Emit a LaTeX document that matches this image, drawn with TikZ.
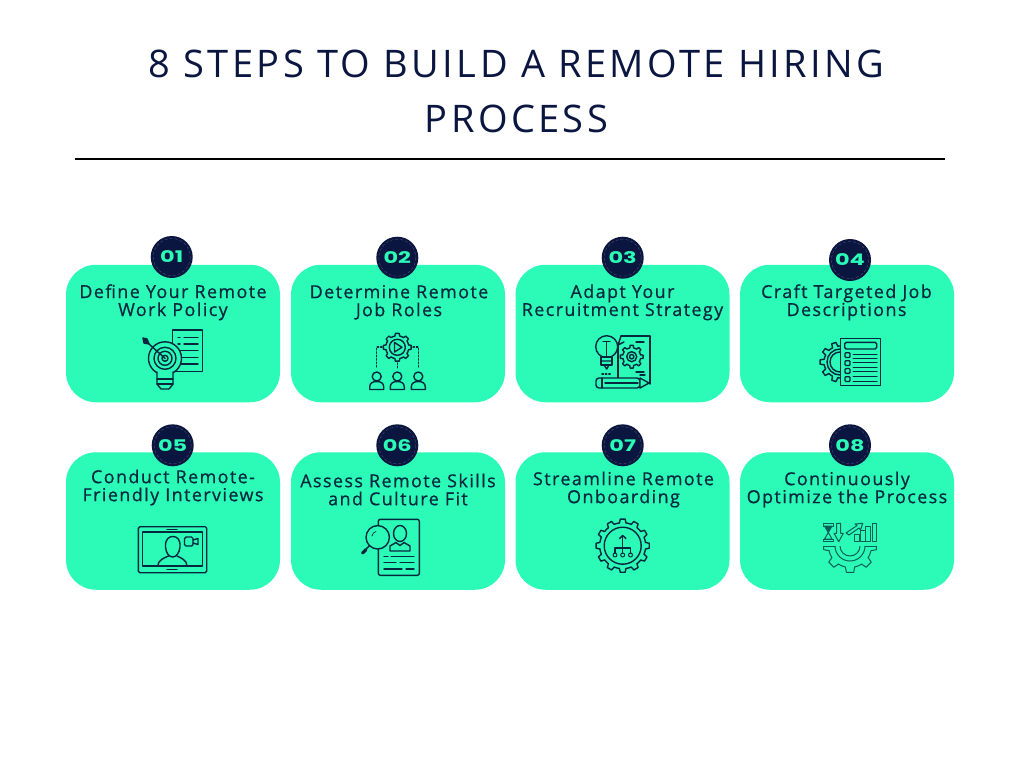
\documentclass[tikz,border=0pt]{standalone}
\usepackage{fontspec}
\setmainfont{Open Sans}
\newfontfamily\titlefont[LetterSpace=9]{Open Sans}
\newfontfamily\cardfont[LetterSpace=8,FakeBold=0.6]{Open Sans}
\newfontfamily\numfont[FakeStretch=1.4]{Poppins}
\definecolor{navy}{HTML}{0A1640}
\definecolor{ink}{HTML}{06283F}
\definecolor{mint}{HTML}{2BFBB6}
\definecolor{teal}{HTML}{0B5F58}
\tikzset{
	card/.style={fill=mint, rounded corners=30, minimum width=214, minimum height=137.5, inner sep=0},
	cardtext/.style={text=ink, align=center, inner sep=0, font=\cardfont\fontsize{17.9}{18}\selectfont},
	numdot/.style={circle, fill=navy, minimum size=42, inner sep=0, text=mint, font=\numfont\bfseries\fontsize{16}{16}\selectfont},
	numring/.style={draw=white!30!navy, line width=0.3, densely dashed},
	icon/.style={draw=ink, line width=1.4, line join=round, line cap=round},
	thinicon/.style={draw=teal, line width=1, line join=round, line cap=round}
}
\newcommand{\gearshape}[6][icon]{%
	\begin{scope}[shift={(#2,#3)}]
		\foreach \k in {1,...,#6}
		{
			\pgfmathsetmacro{\ga}{360/#6*\k}
			\pgfmathsetmacro{\gw}{90/#6}
			\draw[#1] ({\ga-1.1*\gw}:#5) -- ({\ga-0.7*\gw}:#4) -- ({\ga+0.7*\gw}:#4) -- ({\ga+1.1*\gw}:#5) -- ({\ga+2*\gw}:#5) -- ({\ga+2.9*\gw}:#5);
		}
	\end{scope}
}
\begin{document}
\begin{tikzpicture}[x=1pt, y=-1pt]
	\useasboundingbox (0,0) rectangle (1024,768);

	\node[text=navy, align=center, inner sep=0, font=\titlefont\fontsize{38}{55}\selectfont] (title) at (516.5,91.5) {8 STEPS TO BUILD A REMOTE HIRING\\PROCESS};
	\coordinate (ruleL) at (75,159);
	\coordinate (ruleR) at (945,159);
	\draw[line width=2, black] (ruleL) -- (ruleR);

	\foreach \i/\cx/\cy/\tx/\ty/\nx/\ny/\lbl in {
		1/173/333.5/173/302.3/171.7/257/{Define Your Remote\\Work Policy},
		2/398/333.5/399/302.3/397.3/257.7/{Determine Remote\\Job Roles},
		3/622.5/333.5/622.5/302.3/622.7/257.7/{Adapt Your\\Recruitment Strategy},
		4/847/333.5/846.5/302.3/850/260/{Craft Targeted Job\\Descriptions},
		5/173/521/173/487.5/172.7/445.3/{Conduct Remote-\\Friendly Interviews},
		6/398/521/398/489.5/397.3/445.3/{Assess Remote Skills\\and Culture Fit},
		7/622.5/521/623.5/489.5/622.7/445.3/{Streamline Remote\\Onboarding},
		8/847/521/847/489.5/850/445.3/{Continuously\\Optimize the Process}}
	{
		\node[card] (card\i) at (\cx,\cy) {};
		\node[numdot] (num\i) at (\nx,\ny) {0\i};
		\draw[numring] (num\i.center) circle (18.5);
		\node[cardtext] (text\i) at (\tx,\ty) {\lbl};
	}

	% 01 target and list
	\draw[icon] (172.7,330) rectangle (202.7,371.7);
	\foreach \y/\a in {337.3/184,344/184,350.7/178,357.3/178,364/178}
	{
		\draw[icon] (\a,\y) -- (198,\y);
	}
	\draw[icon] (178,337.3) -- (180,337.3) (178,344) -- (180,344);
	\draw[icon, fill=mint] (165,358.3) circle (16.5);
	\draw[icon] (165,358.3) circle (11) (165,358.3) circle (7) (165,358.3) circle (3);
	\draw[icon, fill=mint] (157,372) -- (157,384) -- (161,389) -- (169,389) -- (173,384) -- (173,372);
	\draw[icon] (157,379) -- (173,379) (157,384) -- (173,384);
	\draw[icon] (165,358.3) -- (149,344);
	\draw[icon, fill=ink] (149,344) -- (144,343) -- (143,338) -- (147,339) -- cycle;

	% 02 gear and people
	\gearshape{397.3}{347.3}{14}{11.5}{8}
	\draw[icon] (397.3,347.3) circle (8);
	\draw[icon] (394.5,342.5) -- (402,347.3) -- (394.5,352) -- cycle;
	\draw[icon, dotted] (382,347) -- (376.7,347) -- (376.7,367);
	\draw[icon, dotted] (413,347) -- (418.3,347) -- (418.3,367);
	\draw[icon, dotted] (397.3,363) -- (397.3,369);
	\foreach \x in {376.7,397.3,418.3}
	{
		\draw[icon] (\x,376.5) circle (4.5);
		\draw[icon] (\x-7,389.5) -- (\x-7,387) .. controls (\x-7,383) and (\x-4,381.5) .. (\x,381.5) .. controls (\x+4,381.5) and (\x+7,383) .. (\x+7,387) -- (\x+7,389.5) -- cycle;
	}

	% 03 bulb, book and pencil
	\draw[icon] (621,336) -- (650,336) -- (650,384) (618,345) -- (618,378);
	\draw[icon] (621,336) -- (618,345) -- (624,342);
	\gearshape{631.7}{356.7}{11.5}{9}{8}
	\draw[icon] (631.7,356.7) circle (5) (631.7,356.7) circle (2.2);
	\draw[icon] (636,342) -- (644,342) (636,372) -- (644,372) (640,375) -- (645,375);
	\draw[icon, fill=mint] (606.7,346.7) circle (11);
	\draw[icon, fill=mint] (601,357) rectangle (612,365);
	\draw[icon] (601,361) -- (612,361) (604,365) -- (606.7,369) -- (609,365);
	\draw[icon] (603,341.5) -- (610,341.5) (606.7,341.5) -- (606.7,357);
	\draw[icon, dotted] (602,374) -- (611,374);
	\draw[icon, fill=mint, rounded corners=3] (596,378) -- (640,378) -- (640,388) -- (596,388) -- cycle;
	\draw[icon, fill=mint] (640,378) -- (649,383) -- (640,388) -- cycle;
	\draw[icon] (602,378) -- (602,388) (605,383) -- (638,383);

	% 04 gear behind a form
	\gearshape{840}{362}{20}{16}{10}
	\draw[icon] (840,362) circle (13) (840,362) circle (10);
	\draw[icon, fill=mint] (840.7,338.3) rectangle (880.7,385.7);
	\draw[icon, rounded corners=1.5] (844.7,342.3) rectangle (876.7,349);
	\foreach \y in {352.7,360.7,368.5,376.7}
	{
		\draw[icon, rounded corners=1] (845,\y) rectangle (850,\y+4.8);
	}
	\foreach \y in {354,358.3,362.7,367.3,371.7,376.7,381}
	{
		\draw[icon, line width=1] (853,\y) -- (877,\y);
	}

	% 05 video call on a tablet
	\draw[icon, rounded corners=1.5] (138.3,526.7) rectangle (206.7,572.7);
	\draw[icon] (142.7,532) rectangle (202.7,566);
	\draw[icon] (167,529.5) -- (177,529.5) (167,569.5) -- (177,569.5);
	\draw[icon] (165.5,547) .. controls (165,538) and (170,536.5) .. (172.7,536.5) .. controls (177,536.5) and (180.5,539) .. (180,547) .. controls (179.5,553) and (176,557) .. (172.7,557) .. controls (169,557) and (166,553) .. (165.5,547) -- cycle;
	\draw[icon] (157.7,566) .. controls (158,560) and (164,558) .. (168.5,556) (187,566) .. controls (187,560) and (181,558) .. (177,556);
	\draw[icon, rounded corners=1.5] (184.5,537) rectangle (193,546);
	\draw[icon] (193,540) -- (198,538.5) -- (198,544.5) -- (193,543);

	% 06 magnifier over a profile
	\draw[icon, rounded corners=2] (378.3,519.3) rectangle (419.3,575.3);
	\draw[icon] (400,533.5) ellipse (6.5 and 8);
	\draw[icon] (390,551) -- (390,546) -- (396,542.5) -- (400,545.5) -- (404,542.5) -- (410,546) -- (410,551) -- cycle;
	\foreach \y/\a/\b/\c/\d in {556.7/384/388/391/414,562.7/384/396/400/414,569/384/402/406/414}
	{
		\draw[icon] (\a,\y) -- (\b,\y) (\c,\y) -- (\d,\y);
	}
	\draw[icon, fill=mint] (377.7,537.3) circle (11.7);
	\draw[icon, line width=0.7] (372,536) .. controls (372.5,533.5) and (374,532) .. (376,531.5);
	\draw[icon] (369.5,545.5) -- (366,549);
	\draw[icon, line width=3.2] (366,549.5) -- (362.5,553);

	% 07 gear with branching arrows
	\gearshape{622.7}{545.7}{26.7}{23}{12}
	\draw[icon] (622.7,545.7) circle (18.5);
	\draw[icon] (622.7,535.5) -- (622.7,553);
	\draw[icon] (619.5,538.5) -- (622.7,535.5) -- (625.9,538.5);
	\draw[icon] (615,553) -- (615,548) -- (630.5,548) -- (630.5,553);
	\foreach \x in {615,622.7,630.5}
	{
		\draw[icon, line width=1] (\x,555) circle (2);
	}

	% 08 hourglass, trends and half gear
	\begin{scope}
		\clip (815,546) rectangle (885,580);
		\gearshape[thinicon]{850}{546}{26.7}{21.5}{8}
		\draw[thinicon] (850,546) circle (15) (850,546) circle (10);
	\end{scope}
	\draw[thinicon] (823.3,546) -- (835,546) (865,546) -- (876.7,546);
	\draw[thinicon] (823.3,523.3) rectangle (833.3,526) (823.3,539) rectangle (833.3,541.7);
	\draw[thinicon, fill=teal] (824.5,526) -- (832,526) -- (828.3,532.5) -- cycle;
	\draw[thinicon] (824.5,539) -- (828.3,532.5) -- (832,539) -- cycle;
	\draw[thinicon] (836.7,523.3) -- (840.7,523.3) -- (840.7,533.3) -- (843.3,533.3) -- (838.7,541.7) -- (834,533.3) -- (836.7,533.3) -- cycle;
	\draw[thinicon] (846,533) -- (857,525.5) -- (855,524) -- (862.7,523.3) -- (860.5,530) -- (859,528) -- (849,535) -- cycle;
	\foreach \a/\b/\h in {854.3/859/534,860/865/530.7,865.7/870.7/526.7,872/876.7/523.3}
	{
		\draw[thinicon, fill=mint] (\a,\h) rectangle (\b,541.7);
	}
\end{tikzpicture}
\end{document}
